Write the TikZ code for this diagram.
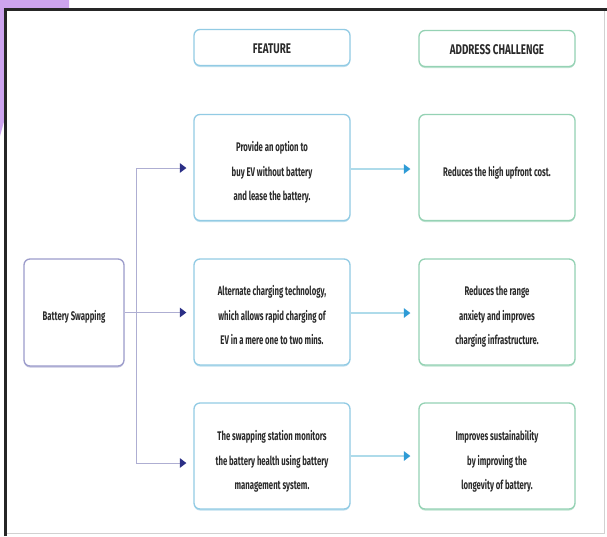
\documentclass[tikz,border=0pt]{standalone}
\usepackage{fontspec}
\setmainfont{Fira Sans}[FakeStretch=0.62]
\newfontfamily\headfont{Fira Sans}[FakeStretch=0.7]
\usetikzlibrary{arrows.meta,shadows}
\definecolor{lav}{HTML}{CDA4EE}
\definecolor{featblue}{HTML}{92CBE4}
\definecolor{chalgreen}{HTML}{95D2B4}
\definecolor{swapline}{HTML}{9C9CCB}
\definecolor{branch}{HTML}{AEAED2}
\definecolor{navy}{HTML}{2B2F86}
\definecolor{cyanline}{HTML}{AEDBEA}
\definecolor{cyanhead}{HTML}{2E9BD6}
\definecolor{txt}{HTML}{2A2A2A}
\tikzset{
  box/.style={draw, line width=1.3pt, rounded corners=6pt, fill=white,
    minimum width=156pt},
  boxtext/.style={align=center, text=txt, inner sep=0pt,
    font=\fontsize{12.5}{24.5}\selectfont\bfseries},
  headtext/.style={boxtext, font=\headfont\fontsize{14}{16}\selectfont\bfseries},
  shade blue/.style={drop shadow={shadow xshift=0pt, shadow yshift=-1.5pt,
    fill=featblue, opacity=0.6}},
  shade green/.style={drop shadow={shadow xshift=0pt, shadow yshift=-1.5pt,
    fill=chalgreen, opacity=0.6}},
  shade purple/.style={drop shadow={shadow xshift=0pt, shadow yshift=-1.5pt,
    fill=swapline, opacity=0.6}},
  headbox/.style={box, minimum height=36pt},
  featbox/.style={box, draw=featblue, shade blue, minimum height=106pt},
  chalbox/.style={box, draw=chalgreen, shade green, minimum height=106pt},
  leftarrow/.style={draw=branch, line width=1pt,
    -{Triangle[width=9.5pt,length=6.5pt,color=navy,fill=navy]}, shorten >=7pt},
  rightarrow/.style={draw=cyanline, line width=1.4pt,
    -{Triangle[width=9.5pt,length=6.5pt,color=cyanhead,fill=cyanhead]}, shorten >=8pt},
}
\begin{document}
\begin{tikzpicture}[x=1pt,y=-1pt]
  % page area
  \useasboundingbox (0,0) rectangle (607,536);
  \fill[white] (0,0) rectangle (607,536);
  % lavender corner behind the frame
  \fill[lav] (0,0) -- (69,0) -- (69,9) -- (5,9) -- (5,118) -- (0,136) -- cycle;
  % frame: heavy top and left, light right and bottom
  \draw[black!85, line width=3pt] (5.5,536) -- (5.5,9.5) -- (607,9.5);
  \draw[black!18, line width=1.2pt] (604.5,11) -- (604.5,533.5) -- (7,533.5);

  % column headers
  \node[headbox, draw=featblue, shade blue] (hfeat) at (272,47.5) {};
  \node[headtext] (hfeatt) at ([yshift=-1.5pt]hfeat.center) {FEATURE};
  \node[headbox, draw=chalgreen, shade green] (hchal) at (497,48.5) {};
  \node[headtext] (hchalt) at ([yshift=-1pt]hchal.center) {ADDRESS CHALLENGE};

  % source box
  \node[box, draw=swapline, shade purple, minimum width=100pt, minimum height=107pt] (bs) at (74,312.5) {};
  \node[boxtext] (bst) at ([yshift=-4.5pt]bs.center) {Battery Swapping};

  % feature boxes
  \node[featbox] (f1) at (272,167.5) {};
  \node[boxtext] (f1t) at ([yshift=-5pt]f1.center) {Provide an option to\\buy EV without battery\\and lease the battery.};
  \node[featbox] (f2) at (272,312) {};
  \node[boxtext] (f2t) at ([yshift=-3.5pt]f2.center) {Alternate charging technology,\\which allows rapid charging of\\EV in a mere one to two mins.};
  \node[featbox] (f3) at (272,456) {};
  \node[boxtext] (f3t) at ([yshift=-5.5pt]f3.center) {The swapping station monitors\\the battery health using battery\\management system.};

  % challenge boxes
  \node[chalbox] (c1) at (497,167.5) {};
  \node[boxtext] (c1t) at ([yshift=-5pt]c1.center) {Reduces the high upfront cost.};
  \node[chalbox] (c2) at (497,312) {};
  \node[boxtext] (c2t) at ([yshift=-5pt]c2.center) {Reduces the range\\anxiety and improves\\charging infrastructure.};
  \node[chalbox] (c3) at (497,456) {};
  \node[boxtext] (c3t) at ([yshift=-5.5pt]c3.center) {Improves sustainability\\by improving the\\longevity of battery.};

  % branching connector from the source box
  \coordinate (b1) at (136,168);
  \coordinate (b2) at (136,312.5);
  \coordinate (b3) at (136,463);
  \draw[draw=branch, line width=1pt] (bs.east) -- (b2);
  \draw[draw=branch, line width=1pt] (b1) -- (b3);
  \draw[leftarrow] (b1) -- (b1 -| f1.west);
  \draw[leftarrow] (b2) -- (b2 -| f2.west);
  \draw[leftarrow] (b3) -- (b3 -| f3.west);

  % feature to challenge
  \draw[rightarrow] (f1.east |- 0,169) -- (c1.west |- 0,169);
  \draw[rightarrow] (f2.east |- 0,313) -- (c2.west |- 0,313);
  \draw[rightarrow] (f3.east |- 0,456) -- (c3.west |- 0,456);
\end{tikzpicture}
\end{document}
